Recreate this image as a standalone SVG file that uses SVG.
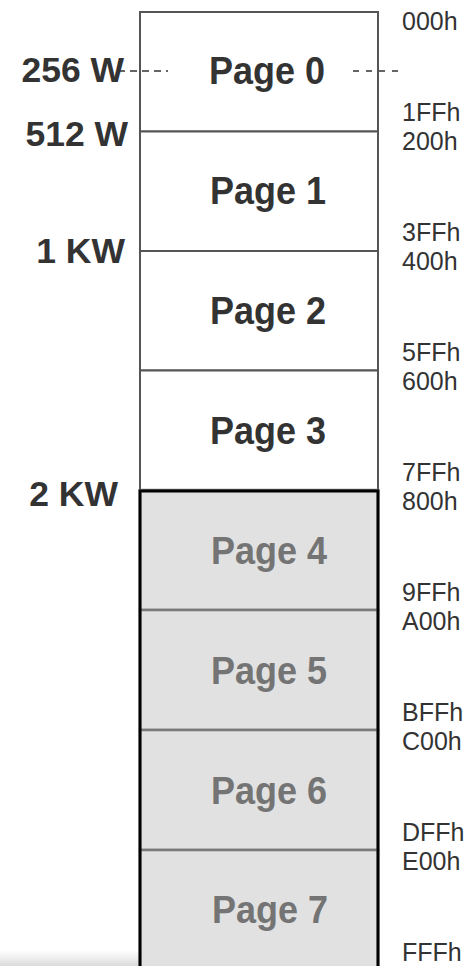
<svg xmlns="http://www.w3.org/2000/svg" width="467" height="966" viewBox="0 0 467 966">
  <defs>
    <style>
      .page { font-family: "Liberation Sans", Arial, sans-serif; font-weight: bold; font-size: 36px; text-anchor: middle; }
      .hi { fill: #333333; }
      .lo { fill: #747474; }
      .size { font-family: "Liberation Sans", Arial, sans-serif; font-weight: bold; font-size: 35.5px; fill: #333333; text-anchor: end; }
      .addr { font-family: "Liberation Sans", Arial, sans-serif; font-size: 25px; fill: #333333; }
      .box-hi { fill: #ffffff; stroke: #555555; stroke-width: 2; }
      .box-lo { fill: #e1e1e1; stroke: #7a7a7a; stroke-width: 2.5; }
      .dash { stroke: #333333; stroke-width: 1.6; stroke-dasharray: 7 5; fill: none; }
    </style>
    <linearGradient id="fade" x1="0" y1="0" x2="0" y2="1">
      <stop offset="0" stop-color="#d8d8d8" stop-opacity="0"/>
      <stop offset="1" stop-color="#d0d0d0" stop-opacity="0.8"/>
    </linearGradient>
  </defs>

  <rect width="467" height="966" fill="#ffffff"/>
  <rect x="0" y="950" width="140" height="16" fill="url(#fade)"/>

  <!-- pages 0..3 -->
  <g id="page0"><rect class="box-hi" x="140" y="12" width="238" height="119.5"/><text class="page hi" transform="translate(267,84) scale(1,1.1)">Page 0</text></g>
  <g id="page1"><rect class="box-hi" x="140" y="131.5" width="238" height="119.5"/><text class="page hi" transform="translate(268,204) scale(1,1.1)">Page 1</text></g>
  <g id="page2"><rect class="box-hi" x="140" y="251" width="238" height="119.5"/><text class="page hi" transform="translate(268,324) scale(1,1.1)">Page 2</text></g>
  <g id="page3"><rect class="box-hi" x="140" y="370.5" width="238" height="119.5"/><text class="page hi" transform="translate(268,444) scale(1,1.1)">Page 3</text></g>

  <!-- pages 4..7 -->
  <g id="page4"><rect class="box-lo" x="140" y="490" width="238" height="120"/><text class="page lo" transform="translate(269,564) scale(1,1.1)">Page 4</text></g>
  <g id="page5"><rect class="box-lo" x="140" y="610" width="238" height="120"/><text class="page lo" transform="translate(269,684) scale(1,1.1)">Page 5</text></g>
  <g id="page6"><rect class="box-lo" x="140" y="730" width="238" height="120"/><text class="page lo" transform="translate(269,804) scale(1,1.1)">Page 6</text></g>
  <g id="page7"><rect class="box-lo" x="140" y="850" width="238" height="130"/><text class="page lo" transform="translate(270,923) scale(1,1.1)">Page 7</text></g>

  <!-- outer border of the upper 2 KW block -->
  <g id="upper-border">
    <path d="M140,970 V491 H378 V970" fill="none" stroke="#000000" stroke-width="3"/>
  </g>

  <!-- size markers -->
  <g id="sizes">
    <text class="size" x="124" y="82">256 W</text>
    <text class="size" x="128" y="146">512 W</text>
    <text class="size" x="125" y="263">1 KW</text>
    <text class="size" x="118" y="506">2 KW</text>
  </g>

  <!-- 256 W marker lines -->
  <g id="connectors">
    <line class="dash" x1="118" y1="71" x2="168" y2="71"/>
    <line class="dash" x1="353" y1="71" x2="403" y2="71" style="stroke-dasharray: 6 7"/>
  </g>

  <!-- addresses -->
  <g id="addresses">
    <text class="addr" x="402" y="30">000h</text>
    <text class="addr" x="402" y="121">1FFh</text>
    <text class="addr" x="402" y="150">200h</text>
    <text class="addr" x="402" y="241">3FFh</text>
    <text class="addr" x="402" y="270">400h</text>
    <text class="addr" x="402" y="361">5FFh</text>
    <text class="addr" x="402" y="390">600h</text>
    <text class="addr" x="402" y="481">7FFh</text>
    <text class="addr" x="402" y="510">800h</text>
    <text class="addr" x="402" y="601">9FFh</text>
    <text class="addr" x="402" y="630">A00h</text>
    <text class="addr" x="402" y="721">BFFh</text>
    <text class="addr" x="402" y="750">C00h</text>
    <text class="addr" x="402" y="841">DFFh</text>
    <text class="addr" x="402" y="870">E00h</text>
    <text class="addr" x="402" y="961">FFFh</text>
  </g>
</svg>
